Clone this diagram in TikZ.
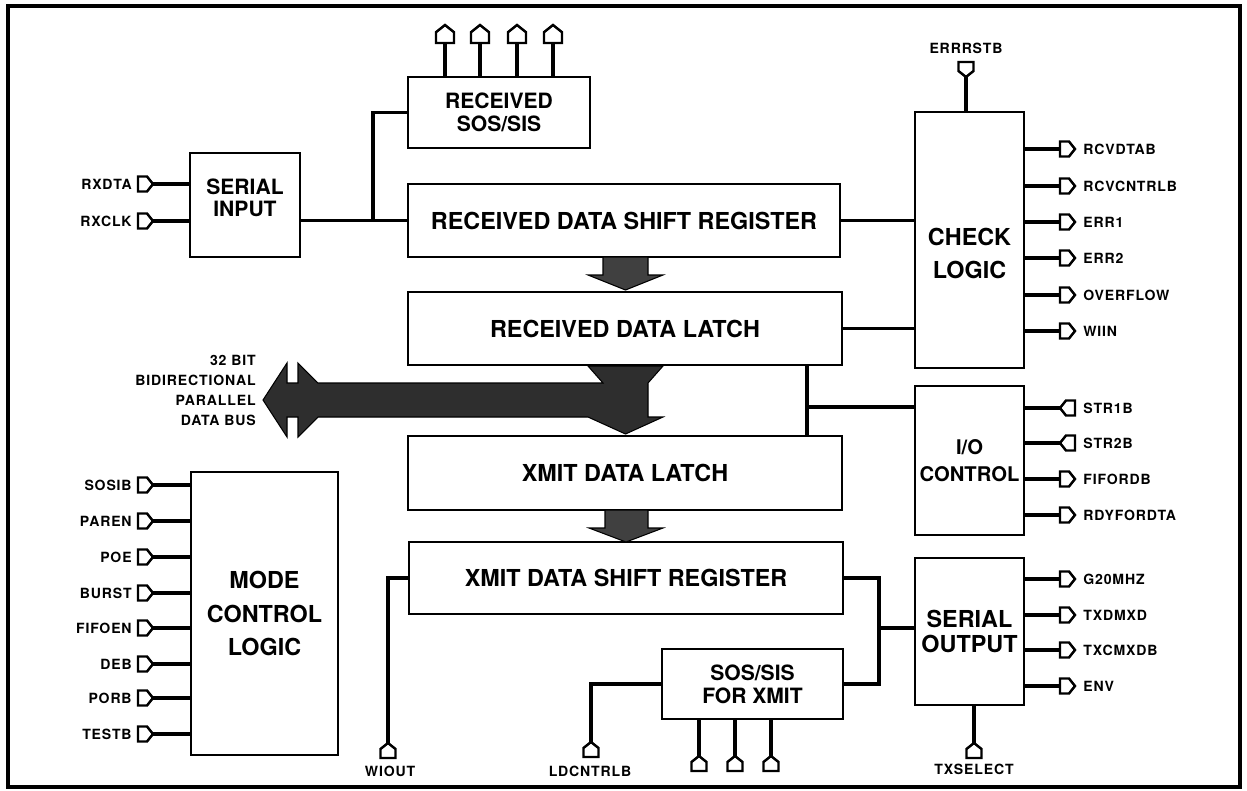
\documentclass[tikz,border=0pt]{standalone}
\usepackage{fontspec}
\setmainfont{TeX Gyre Heros}
\newfontfamily\pinfont[LetterSpace=6]{TeX Gyre Heros}
\newcommand\blockfont{\fontsize{13.3}{15}\selectfont\bfseries}
\newcommand\smallblockfont{\fontsize{12}{13}\selectfont\bfseries}
\newcommand\pinlabelfont{\pinfont\fontsize{8}{11.5}\selectfont\bfseries}
\usetikzlibrary{calc}

\begin{document}
\begin{tikzpicture}[
  x=0.2mm, y=-0.2mm,
  blk/.style={draw, line width=1.3pt, align=center, inner sep=0pt, font=\blockfont},
  wire/.style={line width=1.8pt},
  pinshape/.style={draw, fill=white, line width=1.4pt},
  pinlbl/.style={font=\pinlabelfont, inner sep=0pt},
  fat/.style={fill=black!75, draw=black, line width=0.6pt},
  pics/pinhead/.style={code={
    \draw[pinshape, rotate=#1] (0,0) -- (-6,-7.5) -- (-15,-7.5) -- (-15,7.5) -- (-6,7.5) -- cycle;}}
]
\useasboundingbox (0,0) rectangle (1247,790);
\draw[line width=1.8pt] (8,6) rectangle (1240,787);

% Blocks.
\node[blk, minimum width=36.4mm, minimum height=14.2mm, font=\smallblockfont] (rsos) at (499,112.5) {RECEIVED\\SOS/SIS};
\node[blk, minimum width=22mm, minimum height=20.8mm,
  label={[font=\smallblockfont, align=center, yshift=1.4mm]center:{SERIAL\\[-0.5pt]INPUT}}] (sin) at (245,205) {};
\node[blk, minimum width=86.4mm, minimum height=14.6mm] (rdsr) at (624,220.5) {RECEIVED DATA SHIFT REGISTER};
\node[blk, minimum width=86.8mm, minimum height=14.6mm] (rdl) at (625,328.5) {RECEIVED DATA LATCH};
\node[blk, minimum width=86.8mm, minimum height=14.8mm] (xdl) at (625,473) {XMIT DATA LATCH};
\node[blk, minimum width=86.8mm, minimum height=14.4mm] (xdsr) at (626,578) {XMIT DATA SHIFT REGISTER};
\node[blk, minimum width=36.2mm, minimum height=14mm, font=\smallblockfont] (xsos) at (752.5,684) {SOS/SIS\\FOR XMIT};
\node[blk, minimum width=21.8mm, minimum height=51.2mm,
  label={[font=\blockfont, align=center, yshift=-2.7mm]center:{CHECK\\[4pt]LOGIC}}] (chk) at (969.5,240) {};
\node[blk, minimum width=21.8mm, minimum height=29.8mm, font=\fontsize{11.5}{15}\selectfont\bfseries] (ioc) at (969.5,460.5) {I/O\\CONTROL};
\node[blk, minimum width=21.8mm, minimum height=29.4mm] (sout) at (969.5,631.5) {SERIAL\\[-1pt]OUTPUT};
\node[blk, minimum width=29.4mm, minimum height=56.6mm] (mode) at (264.5,613.5) {MODE\\[4pt]CONTROL\\[4pt]LOGIC};

% Connections between blocks.
\coordinate (rtap) at (373,220.5);
\draw[wire] (sin.east |- rdsr.west) -- (rdsr.west);
\draw[wire] (rtap) |- (rsos.west);
\draw[wire] (rdsr.east) -- (rdsr.east -| chk.west);
\draw[wire] (rdl.east) -- (rdl.east -| chk.west);

\coordinate (iotap) at (807,407);
\draw[wire] (iotap |- rdl.south) -- (iotap |- xdl.north);
\draw[wire] (iotap) -- (iotap -| ioc.west);

\coordinate (txjoin) at (879,628);
\draw[wire] (xdsr.east) -- (xdsr.east -| txjoin) -- (xsos.east -| txjoin) -- (xsos.east);
\draw[wire] (txjoin) -- (txjoin -| sout.west);

% Wide data paths.
\draw[fat] (603,257) -- (603,275) -- (588,275) -- (625.5,290) -- (663,275) -- (648,275) -- (648,257) -- cycle;
\draw[fat, fill=black!82] (263,400) -- (287,363) -- (287,383) -- (298,383) -- (298,363) -- (318,383)
  -- (603,383) -- (588,366) -- (663,366) -- (648,383) -- (648,417) -- (663,417) -- (625.5,434)
  -- (588,417) -- (318,417) -- (298,437) -- (298,417) -- (287,417) -- (287,437) -- cycle;
\draw[fat] (605,510) -- (605,528) -- (589,528) -- (626,542) -- (663,528) -- (648,528) -- (648,510) -- cycle;
\node[pinlbl, align=right, anchor=east] (buslbl) at (256,390.5) {32 BIT\\BIDIRECTIONAL\\PARALLEL\\DATA BUS};

% Input pins on the left.
\foreach \y/\txt/\nm in {184/RXDTA/rxdta, 221/RXCLK/rxclk}{
  \coordinate (\nm) at (153,\y);
  \draw[wire] (\nm) -- (\nm -| sin.west);
  \pic at (\nm) {pinhead=0};
  \node[pinlbl, anchor=east] (\nm-lbl) at (132,\y) {\txt};
}
\foreach \y/\txt/\nm in {485/SOSIB/sosib, 521/PAREN/paren, 557/POE/poe, 593/BURST/burst,
    628/FIFOEN/fifoen, 664/DEB/deb, 698/PORB/porb, 734/TESTB/testb}{
  \coordinate (\nm) at (153,\y);
  \draw[wire] (\nm) -- (\nm -| mode.west);
  \pic at (\nm) {pinhead=0};
  \node[pinlbl, anchor=east] (\nm-lbl) at (132,\y) {\txt};
}

% Pins on the right.
\foreach \y/\txt/\nm in {149/RCVDTAB/rcvdtab, 186/RCVCNTRLB/rcvcntrlb, 222/ERR1/err1,
    258/ERR2/err2, 295/OVERFLOW/overflow, 331/WIIN/wiin}{
  \coordinate (\nm) at (1075,\y);
  \draw[wire] (\nm -| chk.east) -- (\nm);
  \pic at (\nm) {pinhead=0};
  \node[pinlbl, anchor=west] (\nm-lbl) at (1083,\y) {\txt};
}
\foreach \y/\x/\ang/\txt/\nm in {408/1060/180/STR1B/str1b, 443/1060/180/STR2B/str2b,
    479/1075/0/FIFORDB/fifordb, 515/1075/0/RDYFORDTA/rdyfordta}{
  \coordinate (\nm) at (\x,\y);
  \draw[wire] (\nm -| ioc.east) -- (\nm);
  \pic at (\nm) {pinhead=\ang};
  \node[pinlbl, anchor=west] (\nm-lbl) at (1083,\y) {\txt};
}
\foreach \y/\txt/\nm in {579/G20MHZ/g20mhz, 615/TXDMXD/txdmxd, 650/TXCMXDB/txcmxdb, 686/ENV/env}{
  \coordinate (\nm) at (1075,\y);
  \draw[wire] (\nm -| sout.east) -- (\nm);
  \pic at (\nm) {pinhead=0};
  \node[pinlbl, anchor=west] (\nm-lbl) at (1083,\y) {\txt};
}

% Pins on top.
\foreach \x [count=\i] in {445,480,517,553}{
  \coordinate (rsos\i) at (\x,25);
  \draw[wire] (rsos\i |- rsos.north) -- (rsos\i);
  \pic[scale=1.2] at (rsos\i) {pinhead=90};
}
\coordinate (errrstb) at (966,77);
\draw[wire] (chk.north -| errrstb) -- (errrstb);
\pic at (errrstb) {pinhead=-90};
\node[pinlbl] (errrstb-lbl) at (966,48) {ERRRSTB};

% Pins at the bottom.
\coordinate (wiout) at (388,743);
\draw[wire] (xdsr.west) -| (wiout);
\pic at (wiout) {pinhead=90};
\node[pinlbl] (wiout-lbl) at (390,771) {WIOUT};

\coordinate (ldcntrlb) at (591,742);
\draw[wire] (xsos.west) -| (ldcntrlb);
\pic at (ldcntrlb) {pinhead=90};
\node[pinlbl] (ldcntrlb-lbl) at (590,771) {LDCNTRLB};

\foreach \x [count=\i] in {699,735,771}{
  \coordinate (xsos\i) at (\x,756);
  \draw[wire] (xsos\i |- xsos.south) -- (xsos\i);
  \pic at (xsos\i) {pinhead=90};
}

\coordinate (txselect) at (974,743);
\draw[wire] (sout.south -| txselect) -- (txselect);
\pic at (txselect) {pinhead=90};
\node[pinlbl] (txselect-lbl) at (974,769) {TXSELECT};

\end{tikzpicture}
\end{document}
